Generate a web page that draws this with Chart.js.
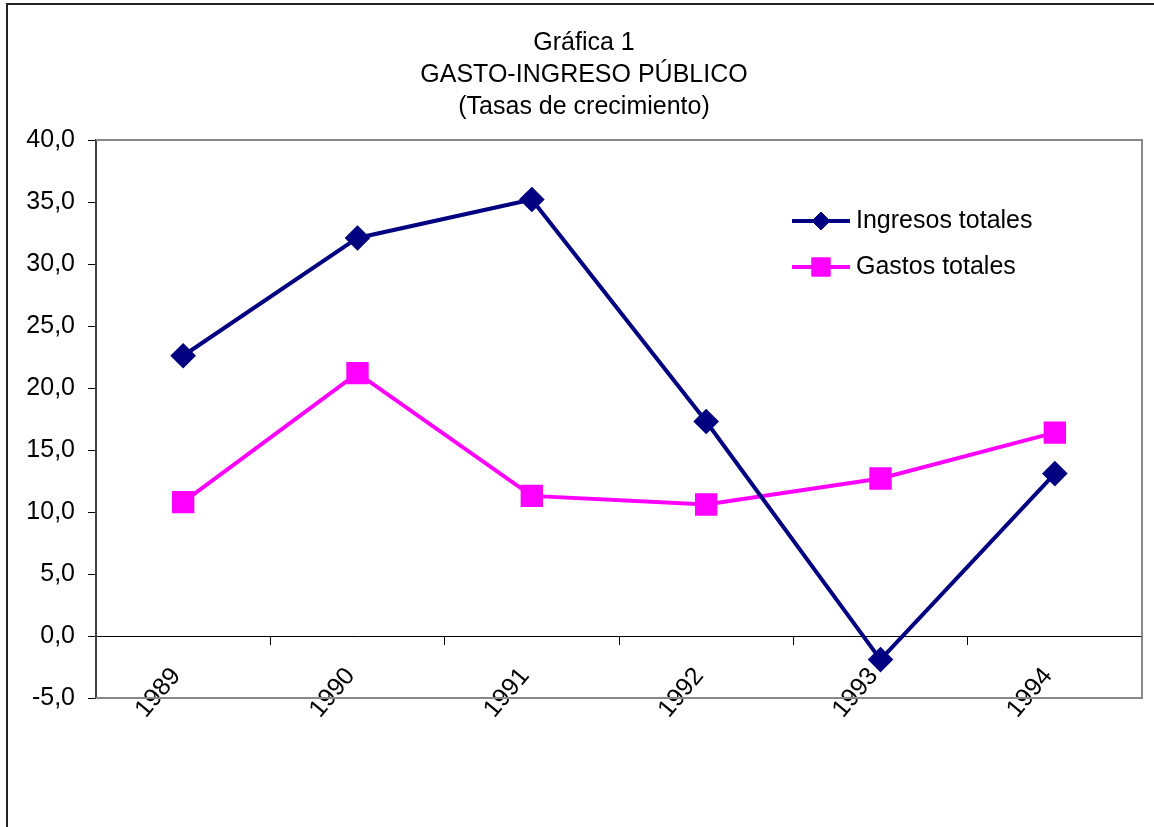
<!DOCTYPE html>
<html>
<head>
<meta charset="utf-8">
<script src="https://cdn.jsdelivr.net/npm/chart.js@4"></script>
<style>
  html, body { margin: 0; padding: 0; background: #fff; }
  #wrap { width: 1154px; height: 827px; }
</style>
</head>
<body>
<div id="wrap"><canvas id="Chart" width="1154" height="827"></canvas></div>
<script>
const years = ["1989", "1990", "1991", "1992", "1993", "1994"];
const ingresos = [22.6, 32.1, 35.2, 17.3, -1.9, 13.1];
const gastos = [10.8, 21.2, 11.3, 10.6, 12.7, 16.4];
const titleLines = ["Gráfica 1", "GASTO-INGRESO PÚBLICO", "(Tasas de crecimiento)"];
const seriesNames = ["Ingresos totales", "Gastos totales"];

const FONT = "'Liberation Sans', Arial, sans-serif";

// marco exterior y borde del área de trazado
const framePlugin = {
  id: "frame",
  beforeDraw(chart) {
    const c = chart.ctx;
    c.save();
    c.strokeStyle = "#222";
    c.lineWidth = 2;
    c.beginPath();
    c.moveTo(7, 827);
    c.lineTo(7, 4);
    c.lineTo(1154, 4);
    c.stroke();
    c.restore();
  },
  beforeDatasetsDraw(chart) {
    const a = chart.chartArea;
    const c = chart.ctx;
    c.save();
    c.strokeStyle = "#888";
    c.lineWidth = 2;
    c.beginPath();
    c.moveTo(a.left, a.top);
    c.lineTo(a.right, a.top);
    c.lineTo(a.right, a.bottom);
    c.lineTo(a.left, a.bottom);
    c.stroke();
    c.restore();
  },
};

// leyenda dentro del área
const legendPlugin = {
  id: "legendIn",
  afterDraw(chart) {
    const a = chart.chartArea;
    const c = chart.ctx;
    const x0 = a.right - 350;
    let y = a.top + 81;
    chart.data.datasets.forEach((ds, i) => {
      c.save();
      c.strokeStyle = ds.borderColor;
      c.lineWidth = 4;
      c.beginPath();
      c.moveTo(x0, y);
      c.lineTo(x0 + 58, y);
      c.stroke();
      c.fillStyle = ds.pointBackgroundColor;
      c.strokeStyle = ds.borderColor;
      c.lineWidth = 1;
      Chart.helpers.drawPoint(c, { pointStyle: ds.pointStyle, radius: i === 0 ? 9 : 13, borderWidth: 1, rotation: 0 }, x0 + 29, y);
      c.fillStyle = "#000";
      c.font = "25px " + FONT;
      c.textBaseline = "middle";
      c.textAlign = "left";
      c.fillText(ds.label, x0 + 64, y);
      c.restore();
      y += 46;
    });
  },
};

const chart = new Chart(document.getElementById("Chart"), {
  type: "line",
  data: {
    labels: years,
    datasets: [
      {
        label: seriesNames[0],
        data: ingresos,
        borderColor: "#000080",
        backgroundColor: "#000080",
        pointBackgroundColor: "#000080",
        borderWidth: 4,
        tension: 0,
        pointStyle: "rectRot",
        pointRadius: 10,
        pointHoverRadius: 10,
      },
      {
        label: seriesNames[1],
        data: gastos,
        borderColor: "#FF00FF",
        backgroundColor: "#FF00FF",
        pointBackgroundColor: "#FF00FF",
        borderWidth: 4,
        tension: 0,
        pointStyle: "rect",
        pointRadius: 13,
        pointHoverRadius: 13,
      },
    ],
  },
  options: {
    responsive: false,
    animation: false,
    layout: { autoPadding: false, padding: { left: 26, right: 12, top: 0, bottom: 129 } },
    plugins: {
      legend: { display: false },
      tooltip: { enabled: false },
      title: {
        display: true,
        text: titleLines,
        color: "#000",
        font: { family: FONT, size: 25, weight: "normal", lineHeight: 32 / 25 },
        padding: { top: 27, bottom: 17 },
      },
    },
    scales: {
      x: {
        position: { y: 0 },
        offset: true,
        afterFit(scale) {
          scale.paddingLeft = 0;
          scale.paddingRight = 0;
        },
        grid: { offset: true, drawOnChartArea: false, drawTicks: true, tickLength: 8, color: "#000" },
        border: { display: true, color: "#000", width: 1 },
        ticks: {
          color: "#000",
          font: { family: FONT, size: 25 },
          minRotation: 50,
          maxRotation: 50,
          padding: 18,
          labelOffset: -7,
        },
      },
      y: {
        min: -5,
        max: 40,
        afterFit(scale) {
          scale.width = 70;
        },
        grid: { drawOnChartArea: false, drawTicks: true, tickLength: 8, color: "#000" },
        border: { display: true, color: "#404040", width: 2 },
        ticks: {
          stepSize: 5,
          color: "#000",
          padding: 13,
          font: { family: FONT, size: 25 },
          callback: (v) => v.toFixed(1).replace(".", ","),
        },
      },
    },
  },
  plugins: [framePlugin, legendPlugin],
});
</script>
</body>
</html>
